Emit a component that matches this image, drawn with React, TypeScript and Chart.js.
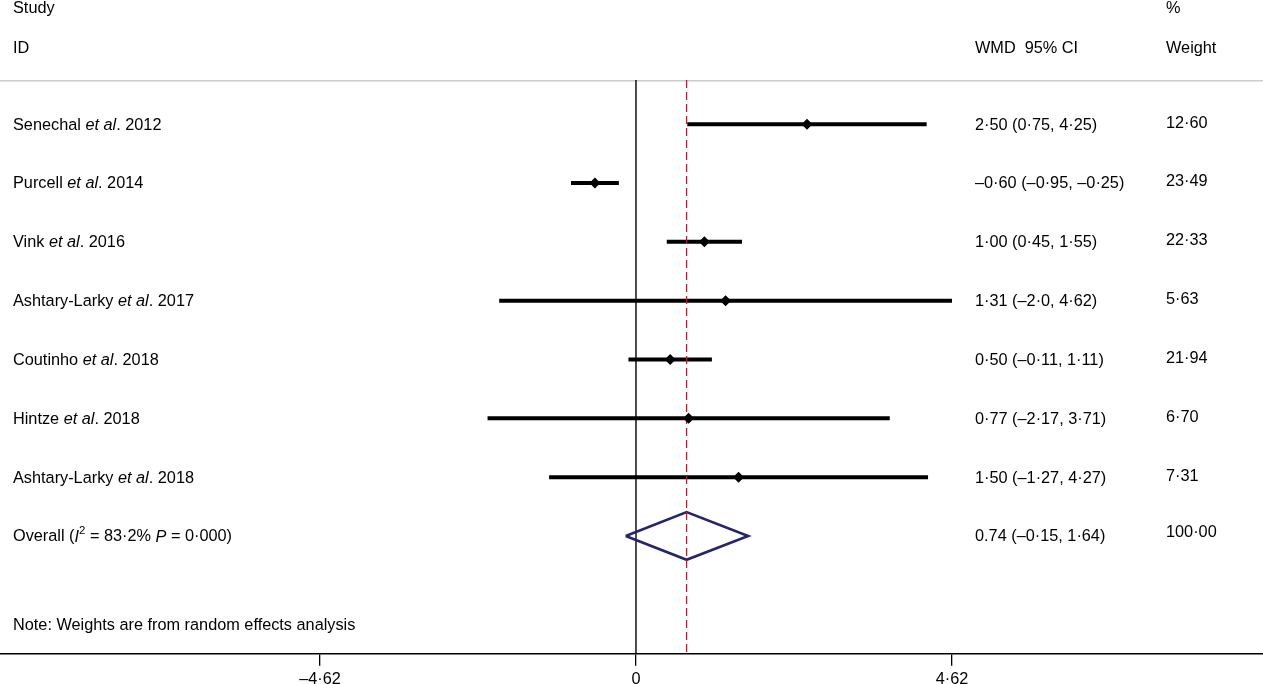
import React, { useEffect, useRef } from 'react';
import { Chart, registerables } from 'chart.js';

Chart.register(...registerables);

// ---- data ----
const studies = [
  'Senechal et al. 2012',
  'Purcell et al. 2014',
  'Vink et al. 2016',
  'Ashtary-Larky et al. 2017',
  'Coutinho et al. 2018',
  'Hintze et al. 2018',
  'Ashtary-Larky et al. 2018',
];
const estimates = [2.5, -0.6, 1.0, 1.31, 0.5, 0.77, 1.5];
const lowers = [0.75, -0.95, 0.45, -2.0, -0.11, -2.17, -1.27];
const uppers = [4.25, -0.25, 1.55, 4.62, 1.11, 3.71, 4.27];
const ciLabels = [
  '2·50 (0·75, 4·25)',
  '–0·60 (–0·95, –0·25)',
  '1·00 (0·45, 1·55)',
  '1·31 (–2·0, 4·62)',
  '0·50 (–0·11, 1·11)',
  '0·77 (–2·17, 3·71)',
  '1·50 (–1·27, 4·27)',
];
const weights = ['12·60', '23·49', '22·33', '5·63', '21·94', '6·70', '7·31'];

const overallValues = [0.74, -0.15, 1.64]; // estimate, lower, upper
const overallCiLabel = '0.74 (–0·15, 1·64)';
const overallWeight = '100·00';
const overallLabelParts = [
  { t: 'Overall (' },
  { t: 'I', i: true },
  { t: '2', sup: true },
  { t: ' = 83·2% ' },
  { t: 'P', i: true },
  { t: ' = 0·000)' },
];
const noteText = 'Note: Weights are from random effects analysis';

const xTicks = [-4.62, 0, 4.62];
const xTickLabels = ['–4·62', '0', '4·62'];

const headerLeft = ['Study', 'ID'];
const headerCi = ['', 'WMD  95% CI'];
const headerWeight = ['%', 'Weight'];

// ---- layout constants ----
const W = 1263;
const H = 684;
const AXIS_MIN = -9.298;
const AXIS_MAX = 9.167;
const Y_MIN = 0.25;
const Y_MAX = 10;
const FONT = '"Liberation Sans", Arial, Helvetica, sans-serif';
const FS = 16.3;

type Seg = { t: string; i?: boolean; sup?: boolean };

function studySegments(name: string): Seg[] {
  const idx = name.indexOf('et al');
  if (idx < 0) return [{ t: name }];
  return [
    { t: name.slice(0, idx) },
    { t: 'et al', i: true },
    { t: name.slice(idx + 5) },
  ];
}

function drawRich(ctx: CanvasRenderingContext2D, segs: Seg[], x: number, y: number) {
  let cx = x;
  ctx.textBaseline = 'middle';
  ctx.textAlign = 'left';
  for (const s of segs) {
    const size = s.sup ? FS * 0.7 : FS;
    ctx.font = `${s.i ? 'italic ' : ''}${size}px ${FONT}`;
    const yy = s.sup ? y - FS * 0.4 : y;
    ctx.fillText(s.t, cx, yy);
    cx += ctx.measureText(s.t).width;
  }
}

const textPlugin = {
  id: 'forestText',
  afterDraw(chart: any) {
    const ctx: CanvasRenderingContext2D = chart.ctx;
    const ys = chart.scales.y;
    ctx.save();
    ctx.fillStyle = '#000';
    const colLeft = 13;
    const colCi = 975;
    const colW = 1166;
    // headers
    const headerRows = [-0.97, -0.29];
    headerRows.forEach((r, k) => {
      const py = ys.getPixelForValue(r);
      drawRich(ctx, [{ t: headerLeft[k] }], colLeft, py);
      if (headerCi[k]) drawRich(ctx, [{ t: headerCi[k] }], colCi, py);
      drawRich(ctx, [{ t: headerWeight[k] }], colW, py);
    });
    // rows
    studies.forEach((name, k) => {
      const py = ys.getPixelForValue(k + 1);
      drawRich(ctx, studySegments(name), colLeft, py + 1);
      drawRich(ctx, [{ t: ciLabels[k] }], colCi, py + 1);
      drawRich(ctx, [{ t: weights[k] }], colW, py - 1);
    });
    const po = ys.getPixelForValue(studies.length + 1);
    drawRich(ctx, overallLabelParts, colLeft, po + 1);
    drawRich(ctx, [{ t: overallCiLabel }], colCi, po + 1);
    drawRich(ctx, [{ t: overallWeight }], colW, po - 3);
    drawRich(ctx, [{ t: noteText }], colLeft, ys.getPixelForValue(9.5) + 1);
    ctx.restore();
  },
};

export default function App() {
  const ref = useRef<HTMLCanvasElement | null>(null);

  useEffect(() => {
    document.body.style.margin = '0';
    const canvas = ref.current;
    if (!canvas) return;

    const ciSets = studies.map((_, k) => ({
      type: 'line' as const,
      data: [
        { x: lowers[k], y: k + 1 },
        { x: uppers[k], y: k + 1 },
      ],
      borderColor: '#000',
      borderWidth: 4,
      borderCapStyle: 'butt' as const,
      pointRadius: 0,
      showLine: true,
      fill: false,
      order: 2,
    }));

    const ov = studies.length + 1;
    const dh = 0.405;
    const diamond = {
      type: 'line' as const,
      data: [
        { x: overallValues[1], y: ov },
        { x: overallValues[0], y: ov - dh },
        { x: overallValues[2], y: ov },
        { x: overallValues[0], y: ov + dh },
        { x: overallValues[1], y: ov },
      ],
      borderColor: '#25256b',
      borderWidth: 2.6,
      borderJoinStyle: 'miter' as const,
      pointRadius: 0,
      showLine: true,
      fill: false,
      tension: 0,
      order: 2,
    };

    const markers = {
      type: 'scatter' as const,
      data: estimates.map((e, k) => ({ x: e, y: k + 1 })),
      pointStyle: 'rectRot' as const,
      pointRadius: 5.5,
      backgroundColor: '#000',
      borderColor: '#000',
      borderWidth: 0,
      showLine: false,
      order: 0,
    };

    const zeroLine = {
      type: 'line' as const,
      data: [
        { x: 0, y: Y_MIN },
        { x: 0, y: Y_MAX },
      ],
      borderColor: '#000',
      borderWidth: 1.4,
      pointRadius: 0,
      showLine: true,
      fill: false,
      order: 5,
    };

    const overallLine = {
      type: 'line' as const,
      data: [
        { x: overallValues[0], y: Y_MIN },
        { x: overallValues[0], y: Y_MAX },
      ],
      borderColor: '#9a2a3a',
      borderWidth: 1.3,
      borderDash: [8, 4],
      pointRadius: 0,
      showLine: true,
      fill: false,
      order: 1,
    };

    const separator = {
      type: 'line' as const,
      data: [
        { x: AXIS_MIN, y: Y_MIN },
        { x: AXIS_MAX, y: Y_MIN },
      ],
      borderColor: '#cccccc',
      borderWidth: 3,
      pointRadius: 0,
      showLine: true,
      fill: false,
      order: 6,
    };

    const chart = new Chart(canvas, {
      type: 'scatter',
      data: {
        datasets: [markers, overallLine, ...ciSets, diamond, zeroLine, separator] as any,
      },
      options: {
        responsive: false,
        animation: false,
        devicePixelRatio: 1,
        events: [],
        layout: { autoPadding: false, padding: { top: 80, bottom: -10, left: 0, right: 0 } },
        plugins: {
          legend: { display: false },
          tooltip: { enabled: false },
        },
        scales: {
          x: {
            type: 'linear',
            min: AXIS_MIN,
            max: AXIS_MAX,
            afterBuildTicks: (s: any) => {
              s.ticks = xTicks.map((v) => ({ value: v }));
            },
            ticks: {
              autoSkip: false,
              maxRotation: 0,
              padding: 7,
              color: '#000',
              font: { family: FONT, size: FS, lineHeight: 0.88 },
              callback: (v: any) => {
                const i = xTicks.findIndex((t) => Math.abs(t - Number(v)) < 1e-6);
                return i >= 0 ? xTickLabels[i] : '';
              },
            },
            grid: {
              drawOnChartArea: false,
              drawTicks: true,
              tickLength: 12,
              color: '#000',
              lineWidth: 1.3,
            },
            border: { display: true, color: '#000', width: 1.6 },
          },
          y: {
            type: 'linear',
            display: false,
            min: Y_MIN,
            max: Y_MAX,
            reverse: true,
          },
        },
      },
      plugins: [textPlugin],
    });

    return () => {
      chart.destroy();
    };
  }, []);

  return (
    <div style={{ width: W, height: H, background: '#fff' }}>
      <canvas ref={ref} width={W} height={H} style={{ display: 'block' }} />
    </div>
  );
}
